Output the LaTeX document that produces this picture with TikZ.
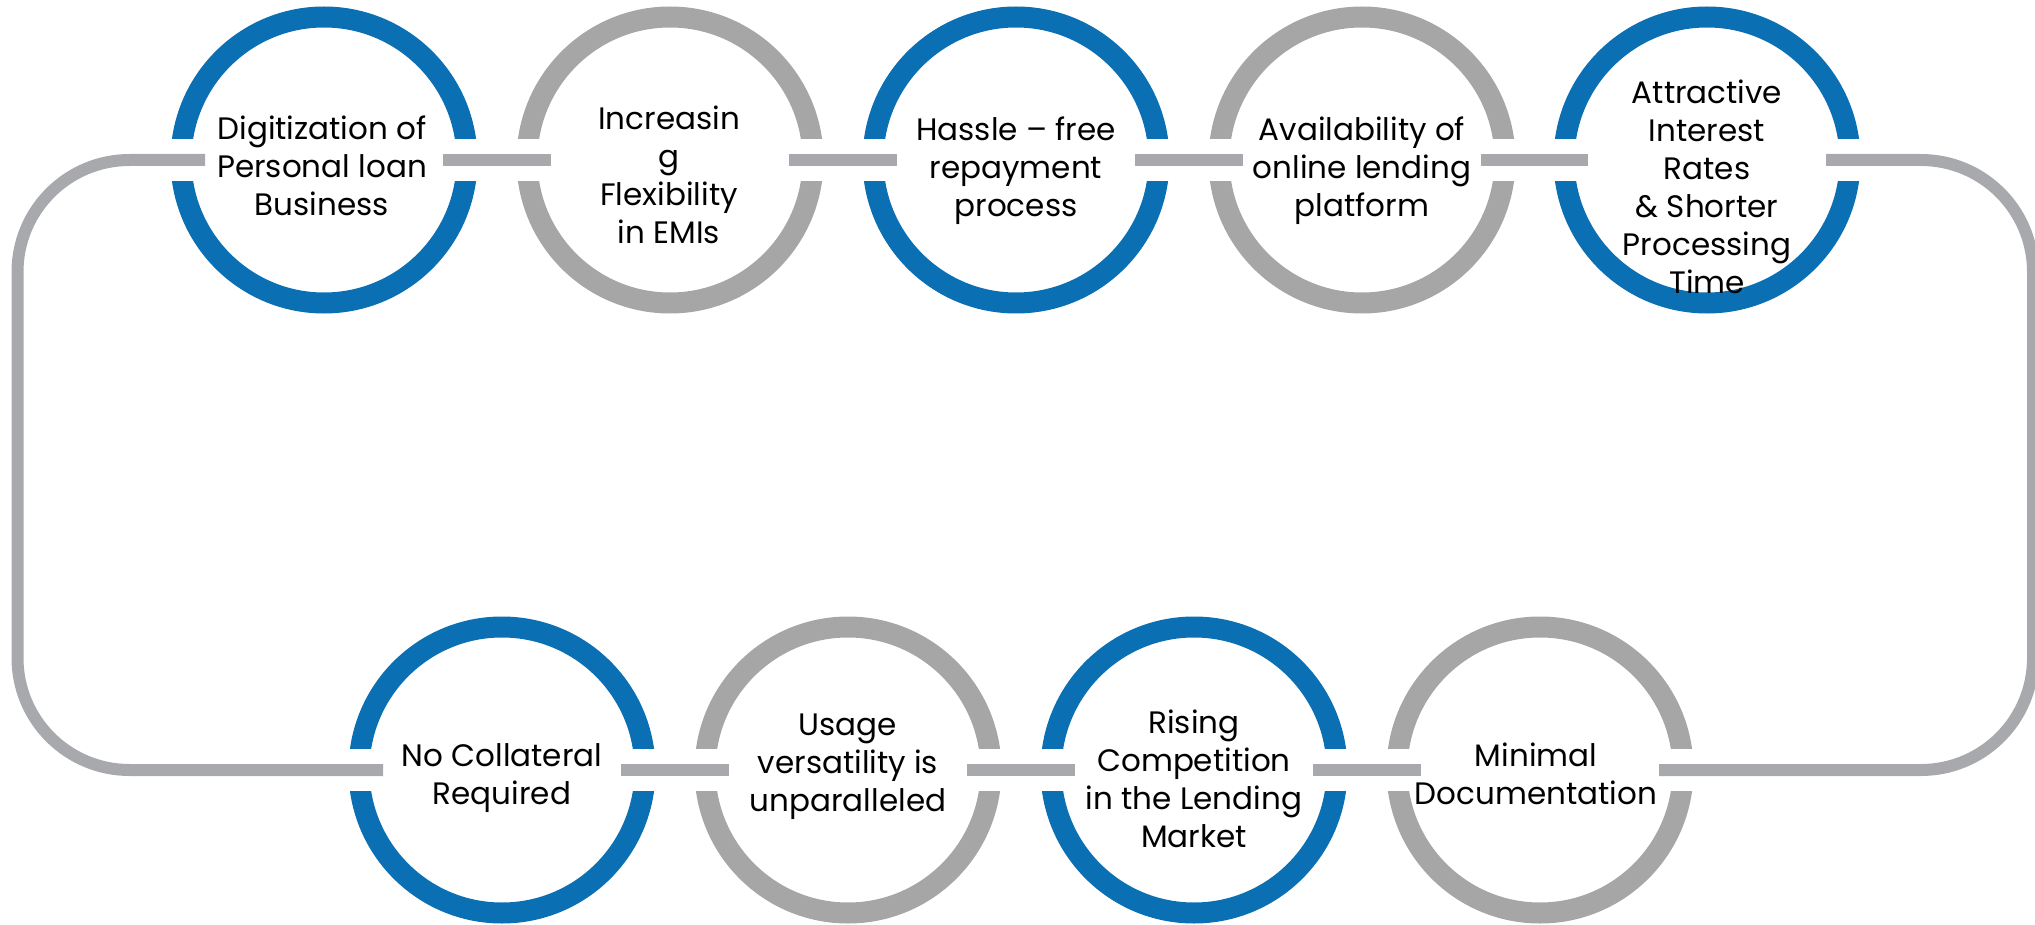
\documentclass[tikz,border=0pt]{standalone}
\usepackage{fontspec}
\setmainfont{Poppins}

\definecolor{ringblue}{RGB}{11,111,179}
\definecolor{ringgray}{RGB}{166,166,166}
\definecolor{bargray}{RGB}{167,169,172}

\tikzset{
  ring/.style={circle, draw=#1, line width=10.5pt, minimum size=143pt, inner sep=0pt},
  bar/.style={draw=bargray, line width=6pt, shorten <=59.5pt, shorten >=59.5pt},
  txt/.style={align=center, inner sep=0pt, font=\fontsize{15.5pt}{19pt}\selectfont}
}

\begin{document}
\begin{tikzpicture}[x=0.5pt, y=-0.5pt]
\useasboundingbox (0,0) rectangle (2035,925);

% top row
\node[ring=ringblue] (c1) at (324,160) {};
\node[ring=ringgray] (c2) at (670,160) {};
\node[ring=ringblue] (c3) at (1016,160) {};
\node[ring=ringgray] (c4) at (1362,160) {};
\node[ring=ringblue] (c5) at (1707,160) {};
% bottom row
\node[ring=ringblue] (c6) at (502,770) {};
\node[ring=ringgray] (c7) at (848,770) {};
\node[ring=ringblue] (c8) at (1194,770) {};
\node[ring=ringgray] (c9) at (1540,770) {};

% cut the rings where the line runs through
\foreach \c in {c1,c2,c3,c4,c5,c6,c7,c8,c9} {
  \fill[white] ([xshift=-83pt,yshift=-10.5pt]\c.center) rectangle ([xshift=-62pt,yshift=10.5pt]\c.center);
  \fill[white] ([xshift=62pt,yshift=-10.5pt]\c.center) rectangle ([xshift=83pt,yshift=10.5pt]\c.center);
}

% connecting line
\coordinate (tl) at (17.5,160);
\coordinate (bl) at (17.5,770);
\coordinate (tr) at (2033,160);
\coordinate (br) at (2033,770);

\draw[bar] (c1.center) -- (c2.center);
\draw[bar] (c2.center) -- (c3.center);
\draw[bar] (c3.center) -- (c4.center);
\draw[bar] (c4.center) -- (c5.center);
\draw[bar] (c6.center) -- (c7.center);
\draw[bar] (c7.center) -- (c8.center);
\draw[bar] (c8.center) -- (c9.center);
\draw[bar, rounded corners=56pt] (c1.center) -- (tl) -- (bl) -- (c6.center);
\draw[bar, rounded corners=56pt] (c5.center) -- (tr) -- (br) -- (c9.center);

% texts
\node[txt] (t1) at (322,166) {Digitization of\\Personal loan\\Business};
\node[txt] (t2) at (669,175) {Increasin\\g\\Flexibility\\in EMIs};
\node[txt] (t3) at (1016,171) {Hassle – free\\repayment\\process};
\node[txt] (t4) at (1362,171) {Availability of\\online lending\\platform};
\node[txt] (t5) at (1707,187) {Attractive\\Interest\\Rates\\\& Shorter\\Processing\\Time};
\node[txt] (t6) at (502,778) {No Collateral\\Required};
\node[txt] (t7) at (848,767) {Usage\\versatility is\\unparalleled};
\node[txt] (t8) at (1194,779) {Rising\\Competition\\in the Lending\\Market};
\node[txt] (t9) at (1536,774) {Minimal\\Documentation};

\end{tikzpicture}
\end{document}
